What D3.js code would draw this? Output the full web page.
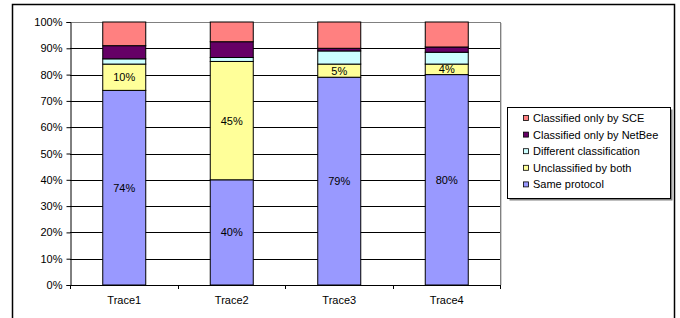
<!DOCTYPE html>
<html><head><meta charset="utf-8">
<script src="https://cdn.jsdelivr.net/npm/d3@7"></script>
<style>body{margin:0;background:#fff}svg{display:block}text{font-family:"Liberation Sans",Arial,sans-serif;font-size:11px;fill:#000}</style>
</head><body>
<script>
const categories = ["Trace1", "Trace2", "Trace3", "Trace4"];
const seriesNames = ["Same protocol", "Unclassified by both", "Different classification", "Classified only by NetBee", "Classified only by SCE"];
const samePro = [74, 40, 79, 80];
const unclassified = [10, 45, 5, 4];
const different = [2, 1.5, 5, 4.5];
const netbee = [5, 6, 1, 2];
const sce = [9, 7.5, 10, 9.5];
const labelValues = [[74, 40, 79, 80], [10, 45, 5, 4]];
const yTicks = [0, 10, 20, 30, 40, 50, 60, 70, 80, 90, 100];
const colors = ["#9999FF", "#FFFF99", "#CCFFFF", "#660066", "#FF8080"];

const W = 680, H = 318;
const svg = d3.select("body").append("svg").attr("width", W).attr("height", H);
svg.append("rect").attr("x", 12.5).attr("y", 4.5).attr("width", 662).attr("height", 340)
  .attr("fill", "#fff").attr("stroke", "#000").attr("stroke-width", 1.5);

const x0 = 70, x1 = 500, yTop = 22, yBot = 285;
const x = d3.scaleBand().domain(categories).range([x0, x1]).paddingInner(0.6).paddingOuter(0.3);
const y = d3.scaleLinear().domain([0, 100]).range([yBot, yTop]);

svg.append("g").selectAll("line").data(yTicks.slice(1)).join("line")
  .attr("x1", x0).attr("x2", x1).attr("y1", d => Math.round(y(d)) + 0.5).attr("y2", d => Math.round(y(d)) + 0.5)
  .attr("stroke", d => d === 100 ? "#808080" : "#000").attr("stroke-width", 1);
svg.append("line").attr("x1", x1 + 0.5).attr("x2", x1 + 0.5).attr("y1", yTop).attr("y2", yBot)
  .attr("stroke", "#808080");
svg.append("line").attr("x1", x1 + 1.5).attr("x2", x1 + 1.5).attr("y1", yTop + 1).attr("y2", yBot)
  .attr("stroke", "#d0d0d0");

const rows = categories.map((c, i) => ({cat: c, s0: samePro[i], s1: unclassified[i], s2: different[i], s3: netbee[i], s4: sce[i]}));
const stack = d3.stack().keys(["s0", "s1", "s2", "s3", "s4"])(rows);
svg.append("g").selectAll("g").data(stack).join("g").attr("fill", (d, i) => colors[i])
  .selectAll("rect").data(d => d).join("rect")
  .attr("x", d => x(d.data.cat) + 0.5).attr("width", x.bandwidth())
  .attr("y", d => y(d[1])).attr("height", d => y(d[0]) - y(d[1]))
  .attr("stroke", "#000").attr("stroke-width", 1);

[0, 1].forEach(si => {
  svg.append("g").selectAll("text").data(stack[si]).join("text")
    .attr("x", d => x(d.data.cat) + x.bandwidth() / 2 + 0.5)
    .attr("y", d => (y(d[0]) + y(d[1])) / 2 + 4)
    .attr("text-anchor", "middle")
    .text((d, i) => labelValues[si][i] + "%");
});

const yAxis = d3.axisLeft(y).tickValues(yTicks).tickSize(4).tickFormat(d => d + "%");
const ga = svg.append("g").attr("transform", `translate(${x0 + 0.5},0)`).call(yAxis);
ga.select(".domain").attr("stroke", "#000");
ga.selectAll(".tick line").attr("stroke", "#000");
ga.selectAll(".tick text").attr("x", -8).style("font-family", '"Liberation Sans",Arial,sans-serif').style("font-size", "11px").attr("fill", "#000");

svg.append("line").attr("x1", x0).attr("x2", x1 + 1).attr("y1", yBot + 0.5).attr("y2", yBot + 0.5).attr("stroke", "#000");
const step = (x1 - x0) / categories.length;
svg.append("g").selectAll("line").data(d3.range(categories.length + 1)).join("line")
  .attr("x1", i => Math.round(x0 + i * step) + 0.5).attr("x2", i => Math.round(x0 + i * step) + 0.5)
  .attr("y1", yBot).attr("y2", yBot + 4).attr("stroke", "#000");
svg.append("g").selectAll("text").data(categories).join("text")
  .attr("x", d => x(d) + x.bandwidth() / 2 + 0.5).attr("y", 304)
  .attr("text-anchor", "middle").text(d => d);

const lg = svg.append("g");
lg.append("rect").attr("x", 509.5).attr("y", 109.5).attr("width", 163).attr("height", 91).attr("fill", "#808080");
lg.append("rect").attr("x", 507.5).attr("y", 107.5).attr("width", 163).attr("height", 91)
  .attr("fill", "#fff").attr("stroke", "#000");
const legOrder = [4, 3, 2, 1, 0];
legOrder.forEach((si, k) => {
  const cy = 118 + k * 16.6;
  lg.append("rect").attr("x", 523.5).attr("y", cy - 2.5).attr("width", 5).attr("height", 5)
    .attr("fill", colors[si]).attr("stroke", "#000").attr("stroke-width", 0.8);
  lg.append("text").attr("x", 533).attr("y", cy + 4).text(seriesNames[si]);
});
</script>
</body></html>
